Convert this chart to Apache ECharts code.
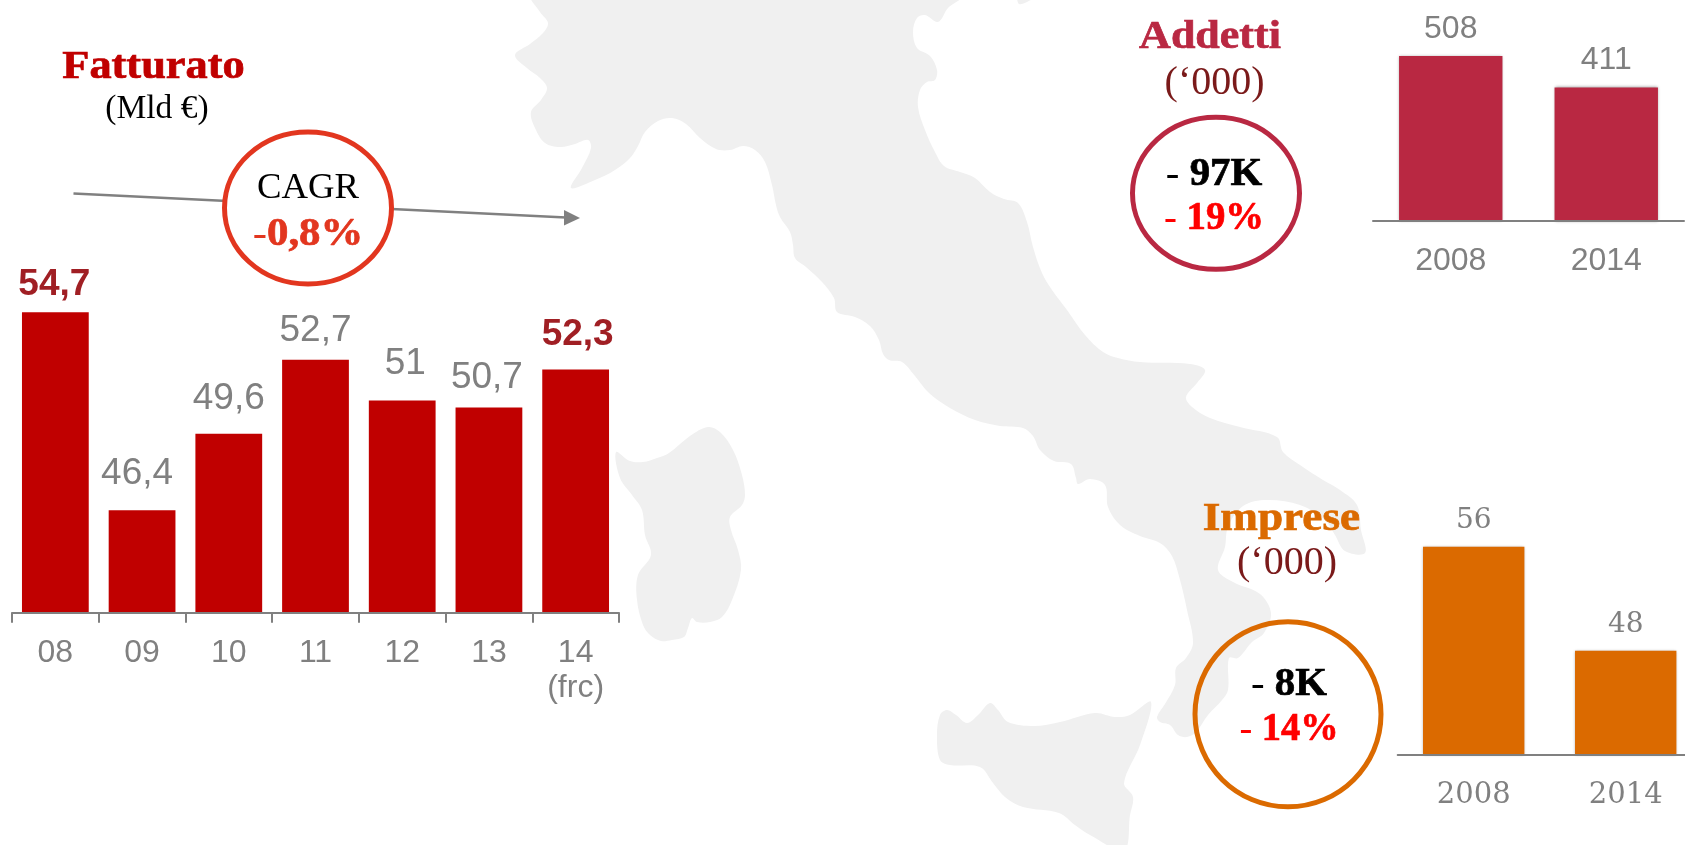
<!DOCTYPE html>
<html>
<head>
<meta charset="utf-8">
<title>Fatturato, Addetti, Imprese</title>
<style>
  html, body { margin: 0; padding: 0; background: #fff; }
  #chart { width: 1685px; height: 845px; }
</style>
<script src="https://cdn.jsdelivr.net/npm/echarts@6/dist/echarts.min.js"></script>
</head>
<body>
<div id="chart"></div>
<script>
// Revenue, 2008-2014
const fatturatoYears = ['08', '09', '10', '11', '12', '13', '14\n(frc)'];
const fatturatoValues = [54.7, 46.4, 49.6, 52.7, 51, 50.7, 52.3];
const fatturatoHighlighted = ['08', '14\n(frc)'];

// Employees, thousands
const addettiYears = ['2008', '2014'];
const addettiValues = [508, 411];

// Companies, thousands
const impreseYears = ['2008', '2014'];
const impreseValues = [56, 48];

// Hand placement of the revenue labels, by category
const fatturatoLabelOffsets = {
  '08': [-1, 3], '09': [-5, -6], '10': [0, -5], '11': [0, 1],
  '12': [3, -6], '13': [-2, 1], '14\n(frc)': [2, -4]
};

const SANS = '"Liberation Sans", Arial, sans-serif';
const SERIF = '"Liberation Serif", "Times New Roman", serif';
const SLAB = '"DejaVu Serif", Georgia, serif';
const GREY = '#808080';
const LAND = '#f0f0f0';
const RED = '#c00000';
const DARK_RED = '#a01f24';
const CRIMSON = '#b92842';
const ORANGE = '#db6a00';
const ACCENT = '#e2361f';
const MAROON = '#7a1a1a';

const decimalComma = v => String(v).replace('.', ',');

// Country silhouette, drawn behind everything else
const mainland = [
  [532,-4],[540,12],[548,23],[543,33],[530,44],[515,55],[527,68],[540,78],[547,88],[541,100],[531,112],[535,128],
  [545,143],[560,147],[575,144],[588,140],[591,148],[582,168],[571,188],[595,180],[615,170],[630,158],[638,146],[645,132],
  [658,121],[672,118],[686,124],[700,138],[716,149],[730,150],[743,146],[755,150],[765,162],[772,185],[776,205],[780,217],
  [790,232],[793,245],[795,258],[806,267],[822,282],[834,298],[837,312],[855,317],[870,326],[879,340],[883,354],[889,360],
  [902,362],[915,376],[929,393],[950,408],[975,420],[1000,426],[1023,428],[1033,436],[1040,450],[1054,461],[1071,464],[1076,478],
  [1078,484],[1090,479],[1105,485],[1108,507],[1120,525],[1140,536],[1160,543],[1172,556],[1180,580],[1187,610],[1193,643],[1186,658],
  [1176,668],[1175,685],[1165,704],[1157,717],[1160,722],[1170,725],[1178,735],[1187,737],[1196,732],[1208,715],[1222,700],[1228,690],
  [1229,658],[1238,658],[1252,642],[1264,633],[1271,613],[1260,594],[1233,582],[1218,570],[1225,547],[1228,527],[1243,506],[1267,500],
  [1300,505],[1325,520],[1335,535],[1345,551],[1365,553],[1361,530],[1357,505],[1340,490],[1323,480],[1300,465],[1283,452],[1277,437],
  [1240,427],[1210,418],[1192,407],[1186,397],[1197,383],[1205,370],[1190,364],[1140,362],[1118,358],[1103,352],[1085,335],[1067,310],
  [1052,290],[1042,273],[1033,247],[1027,222],[1018,203],[1004,199],[990,192],[975,178],[960,172],[944,166],[935,152],[925,130],
  [918,107],[920,90],[927,82],[935,80],[937,70],[930,56],[917,48],[913,32],[917,18],[925,15],[938,22],[948,8],[962,-4]
];
const sardinia = [
  [616,452],[630,461],[643,462],[657,458],[669,453],[690,436],[708,427],[720,432],[733,450],[742,475],[745,495],[742,505],
  [730,517],[731,530],[738,550],[741,570],[732,600],[722,617],[710,622],[697,622],[692,618],[688,628],[684,637],[672,640],
  [661,641],[650,635],[643,625],[637,600],[638,575],[651,555],[645,535],[642,510],[632,495],[620,478]
];
const sicily = [
  [937,735],[940,715],[947,710],[956,715],[967,723],[978,715],[990,703],[998,710],[1008,722],[1034,726],[1060,722],[1095,713],
  [1115,717],[1130,715],[1151,702],[1140,745],[1124,783],[1133,797],[1130,815],[1124,850],[1090,835],[1075,825],[1059,813],[1023,807],
  [1005,797],[993,783],[980,767],[950,765],[940,760]
];
const northernTip = [[1018,-3],[1019,4],[1027,2],[1034,-3]];

const land = points => ({
  type: 'polygon', z: 0, silent: true,
  shape: { points, smooth: 0.35 },
  style: { fill: LAND }
});

// Centred serif text; widen stretches it horizontally around its centre
const caption = (text, x, y, fontSize, fill, fontWeight, widen) => ({
  type: 'text', z: 5, x, y, scaleX: widen || 1, silent: true,
  style: {
    text, x: 0, y: 0, fill, font: `${fontWeight} ${fontSize}px ${SERIF}`, align: 'center', verticalAlign: 'middle',
    stroke: fontWeight === 'bold' ? fill : null, lineWidth: fontWeight === 'bold' ? 0.7 : 0
  }
});

// Two-weight change figure: thin dash, bold amount
const delta = (dash, amount, x, y, fill, widen) => ({
  type: 'text', z: 5, x, y, scaleX: widen || 1, silent: true,
  style: {
    text: `{d|${dash}}{a|${amount}}`, x: 0, y: 0, align: 'center', verticalAlign: 'middle',
    rich: {
      d: { fill, fontFamily: SERIF, fontSize: 40, fontWeight: 'normal' },
      a: { fill, fontFamily: SERIF, fontSize: 40, fontWeight: 'bold', stroke: fill, lineWidth: 0.7 }
    }
  }
});

const ring = (cx, cy, rx, ry, stroke, fill) => ({
  type: 'ellipse', z: 4, silent: true,
  shape: { cx, cy, rx, ry },
  style: { fill, stroke, lineWidth: 5 }
});

const bars = (index, values, barWidth, color, label, shadow) => ({
  type: 'bar', xAxisIndex: index, yAxisIndex: index, barWidth,
  data: values,
  itemStyle: Object.assign({ color }, shadow ? { shadowBlur: 3, shadowColor: 'rgba(0,0,0,0.4)' } : {}),
  label, silent: true, animation: false
});

const categoryAxis = (gridIndex, data, labelOptions, showTicks) => ({
  type: 'category', gridIndex, data,
  axisLine: { lineStyle: { color: GREY, width: 2 } },
  axisTick: { show: !!showTicks, length: 10, lineStyle: { color: GREY, width: 2 } },
  axisLabel: Object.assign({ color: GREY, interval: 0 }, labelOptions),
  z: 3
});

const valueAxis = (gridIndex, min, max) => ({
  type: 'value', gridIndex, min, max, show: false, splitLine: { show: false }
});

const chart = echarts.init(document.getElementById('chart'), null, { renderer: 'canvas' });

chart.setOption({
  animation: false,
  backgroundColor: '#ffffff',
  grid: [
    { left: 12, top: 305, width: 607, height: 307.7, outerBoundsMode: 'none' },
    { left: 1373, top: 26, width: 311, height: 195, outerBoundsMode: 'none' },
    { left: 1397.7, top: 494.7, width: 304, height: 260, outerBoundsMode: 'none' }
  ],
  xAxis: [
    categoryAxis(0, fatturatoYears, { fontFamily: SANS, fontSize: 32, lineHeight: 35, margin: 23 }, true),
    categoryAxis(1, addettiYears, { fontFamily: SANS, fontSize: 32, margin: 24 }),
    categoryAxis(2, impreseYears, { fontFamily: SLAB, fontSize: 29, margin: 26 })
  ],
  yAxis: [
    valueAxis(0, 42.1, 55),
    valueAxis(1, 0, 600),
    valueAxis(2, 40, 60)
  ],
  series: [
    bars(0, fatturatoValues.map((value, i) => {
      const key = fatturatoYears[i];
      const strong = fatturatoHighlighted.includes(key);
      return {
        value,
        label: {
          color: strong ? DARK_RED : GREY,
          fontWeight: strong ? 'bold' : 'normal',
          offset: fatturatoLabelOffsets[key]
        }
      };
    }), '77%', RED, {
      show: true, position: 'top', distance: 12,
      fontFamily: SANS, fontSize: 37,
      formatter: p => decimalComma(p.value)
    }),
    bars(1, addettiValues, '66.5%', CRIMSON, {
      show: true, position: 'top', distance: 11, color: GREY, fontFamily: SANS, fontSize: 32
    }, true),
    bars(2, impreseValues, '66.7%', ORANGE, {
      show: true, position: 'top', distance: 12, color: GREY, fontFamily: SLAB, fontSize: 28
    }, true)
  ],
  graphic: [
    land(mainland), land(sardinia), land(sicily), land(northernTip),

    // Trend arrow under the CAGR badge
    {
      type: 'line', z: 3, silent: true,
      shape: { x1: 73.5, y1: 193.5, x2: 566, y2: 217.5 },
      style: { stroke: GREY, lineWidth: 2.4 }
    },
    {
      type: 'polygon', z: 3, silent: true,
      shape: { points: [[564, 210], [580, 218], [564, 225.5]] },
      style: { fill: GREY }
    },
    ring(308, 208, 83.5, 76, ACCENT, '#ffffff'),
    caption('CAGR', 308, 189, 36, '#000000', 'normal', 1.02),
    delta('-', '0,8%', 308, 235, ACCENT, 1.07),

    caption('Fatturato', 153.5, 68, 40, RED, 'bold', 1.11),
    caption('(Mld €)', 157, 109, 33.5, '#000000', 'normal'),

    caption('Addetti', 1210, 38, 40, CRIMSON, 'bold', 1.1),
    caption('(‘000)', 1214.6, 83, 40, MAROON, 'normal'),
    ring(1216, 193.3, 83.5, 76, CRIMSON, 'none'),
    delta('- ', '97K', 1214, 175, '#000000', 1.02),
    delta('- ', '19%', 1214, 219, '#ff0000', 0.97),

    caption('Imprese', 1281.4, 520, 40, ORANGE, 'bold', 1.13),
    caption('(‘000)', 1287, 563, 40, MAROON, 'normal'),
    ring(1288, 714.3, 93, 92.5, ORANGE, 'none'),
    delta('- ', '8K', 1289, 685, '#000000', 1.02),
    delta('- ', '14%', 1289, 730, '#ff0000', 0.96)
  ]
});
</script>
</body>
</html>
